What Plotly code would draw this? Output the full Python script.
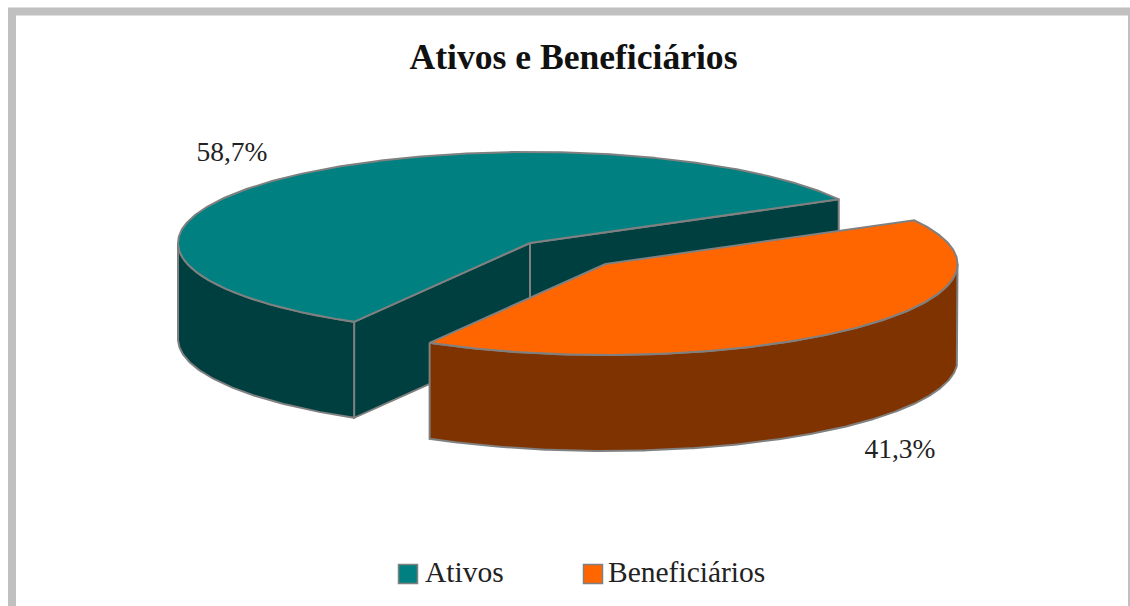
import numpy as np
import plotly.graph_objects as go

TITLE = "Ativos e Beneficiários"
categories = ["Ativos", "Beneficiários"]
shares = [58.7, 41.3]
top_colors = ["#008080", "#FF6600"]
side_colors = ["#003F3F", "#7F3300"]
EDGE = "#808080"

# Drawing geometry of the tilted pie, in page pixels
RX, RY, DEPTH = 352.0, 91.0, 96.0
START_DEG = 28.7                     # slices run counter-clockwise from here
centres = [(530.0, 243.0), (605.5, 264.0)]
label_pos = [(232, 154), (900, 451)]
legend_x = [408, 593]
legend_y = 574
text_x = [425, 608]


def pt(c, deg, drop=0.0):
    a = np.radians(deg)
    return c[0] + RX * np.cos(a), c[1] - RY * np.sin(a) + drop


def arc(c, a0, a1, drop=0.0):
    n = max(2, int(abs(a1 - a0) * 2))
    return pt(c, np.linspace(a0, a1, n), drop)


fig = go.Figure()


def poly(x, y, color):
    fig.add_trace(go.Scatter(
        x=np.r_[x, x[0]], y=np.r_[y, y[0]], mode="lines", fill="toself",
        fillcolor=color, line=dict(color=EDGE, width=2),
        hoverinfo="skip", showlegend=False))


def wall(c, deg, color):
    ex, ey = pt(c, deg)
    poly(np.array([c[0], ex, ex, c[0]]),
         np.array([c[1], ey, ey + DEPTH, c[1] + DEPTH]), color)


def outer(c, a0, a1, color):
    lo = max(a0, 180.0)
    hi = min(a1, 360.0)
    tx, ty = arc(c, lo, hi)
    bx, by = arc(c, hi, lo, DEPTH)
    poly(np.r_[tx, bx], np.r_[ty, by], color)


def top(c, a0, a1, color):
    ax, ay = arc(c, a0, a1)
    poly(np.r_[c[0], ax], np.r_[c[1], ay], color)


spans = []
a = START_DEG
for s in shares:
    spans.append((a, a + s * 3.6))
    a += s * 3.6

# First slice (behind), second slice (in front)
for i in range(2):
    c = centres[i]
    a0, a1 = spans[i]
    if i == 0:
        wall(c, a0, side_colors[i])
        wall(c, a1, side_colors[i])
        outer(c, a0, a1, side_colors[i])
    else:
        # second slice wraps past 360 degrees: outer wall from a0 to 360
        outer(c, a0, 360.0, side_colors[i])
    top(c, a0, a1, top_colors[i])

# Percentage labels
for (x, y), s in zip(label_pos, shares):
    fig.add_trace(go.Scatter(
        x=[x], y=[y], mode="text", text=[f"{s:.1f}%".replace(".", ",")],
        textposition="middle center",
        textfont=dict(family="Liberation Serif", size=27.5, color="#222222"),
        hoverinfo="skip", showlegend=False))

# Legend row
for cat, col, mx, tx in zip(categories, top_colors, legend_x, text_x):
    fig.add_trace(go.Scatter(
        x=[mx], y=[legend_y], mode="markers",
        marker=dict(symbol="square", size=19, color=col, line=dict(color=EDGE, width=1.5)),
        name=cat, hoverinfo="name", showlegend=False))
    fig.add_trace(go.Scatter(
        x=[tx], y=[legend_y + 1], mode="text", text=[cat], textposition="middle right",
        textfont=dict(family="Liberation Serif", size=29.5, color="#222222"),
        hoverinfo="skip", showlegend=False))

fig.update_layout(
    width=1130, height=606, margin=dict(l=0, r=0, t=0, b=0),
    paper_bgcolor="white", plot_bgcolor="white",
    title=dict(text=f"<b>{TITLE}</b>", x=573.5 / 1130, xanchor="center",
               y=1 - 57 / 606, yanchor="middle",
               font=dict(family="Liberation Serif", size=35.6, color="#111111")),
    xaxis=dict(range=[0, 1130], visible=False, fixedrange=True),
    yaxis=dict(range=[606, 0], visible=False, fixedrange=True),
    shapes=[dict(type="rect", xref="x", yref="y", x0=12, x1=1132, y0=11.5, y1=620,
                 line=dict(color="#C0C0C0", width=8), fillcolor="rgba(0,0,0,0)", layer="below")],
)
fig.write_html("out.html", config=dict(displayModeBar=False),
               post_script="document.body.style.margin='0';document.body.style.overflow='hidden';")
